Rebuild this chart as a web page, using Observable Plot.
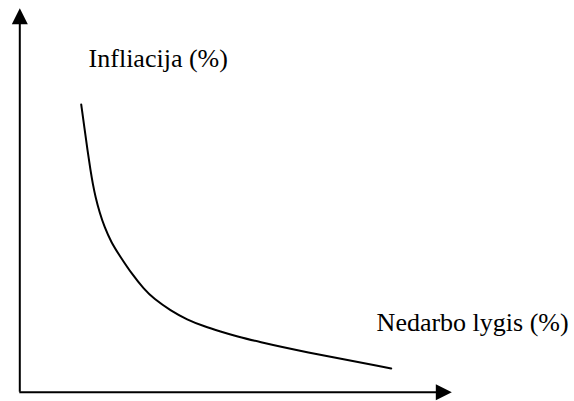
<!DOCTYPE html>
<html>
<head>
<meta charset="utf-8">
<script src="https://cdn.jsdelivr.net/npm/d3@7"></script>
<script src="https://cdn.jsdelivr.net/npm/@observablehq/plot@0.6"></script>
<style>
  html, body { margin: 0; padding: 0; background: #fff; }
</style>
</head>
<body>
<div id="chart"></div>
<script>
// Phillips curve sketch: unemployment (x) vs inflation (y), arbitrary units
const unemployment = [15.35, 16.18, 16.93, 17.68, 18.25, 18.93, 19.93, 21.18, 22.85, 24.93, 28.1, 31.0, 33.5, 37.68, 41.85, 46.0, 50.18, 54.35, 59.35, 70.18, 92.85];
const inflation    = [71.93, 65.93, 60.43, 55.43, 52.1, 48.75, 45.0, 41.25, 37.5, 34.18, 29.43, 25.85, 23.35, 20.43, 18.1, 16.5, 15.18, 13.93, 12.68, 10.25, 5.93];

const axisLabels = ["Infliacija (%)", "Nedarbo lygis (%)"];
const xMax = 108; // end of the unemployment axis (arrow tip)
const yMax = 96;  // end of the inflation axis (arrow tip)

const curve = unemployment.map((u, i) => ({u, inf: inflation[i]}));

// arrowhead symbol with its origin at the tip, pointing up
const arrowHead = {
  draw(context) {
    context.moveTo(0, 0);
    context.lineTo(-8, 16);
    context.lineTo(8, 16);
    context.closePath();
  }
};

const serif = "'Liberation Serif', 'DejaVu Serif', 'Times New Roman', Times, serif";

const chart = Plot.plot({
  width: 574,
  height: 401,
  margin: 0,
  style: {background: "#fff", color: "#000"},
  x: {domain: [0, xMax], range: [19.3, 451.3], axis: null},
  y: {domain: [0, yMax], range: [391.7, 7.7], axis: null},
  marks: [
    Plot.ruleX([0], {y1: 0, y2: yMax - 3, stroke: "#000", strokeWidth: 2}),
    Plot.ruleY([0], {x1: 0, x2: xMax - 3, stroke: "#000", strokeWidth: 2}),
    Plot.dot([{x: 0, y: yMax}], {x: "x", y: "y", symbol: arrowHead, fill: "#000", stroke: "none", r: 8}),
    Plot.dot([{x: xMax, y: 0}], {x: "x", y: "y", symbol: arrowHead, fill: "#000", stroke: "none", r: 8, rotate: 90}),
    Plot.line(curve, {x: "u", y: "inf", curve: "basis", stroke: "#000", strokeWidth: 2}),
    Plot.text([axisLabels[0]], {x: 17.2, y: 81.4, text: d => d, textAnchor: "start", lineAnchor: "bottom", fill: "#000", fontSize: 26, fontFamily: serif}),
    Plot.text([axisLabels[1]], {x: 89.2, y: 15.2, text: d => d, textAnchor: "start", lineAnchor: "bottom", fill: "#000", fontSize: 26, fontFamily: serif})
  ]
});
chart.querySelectorAll("text").forEach(t => t.style.fontFamily = serif);
document.getElementById("chart").appendChild(chart);
</script>
</body>
</html>
